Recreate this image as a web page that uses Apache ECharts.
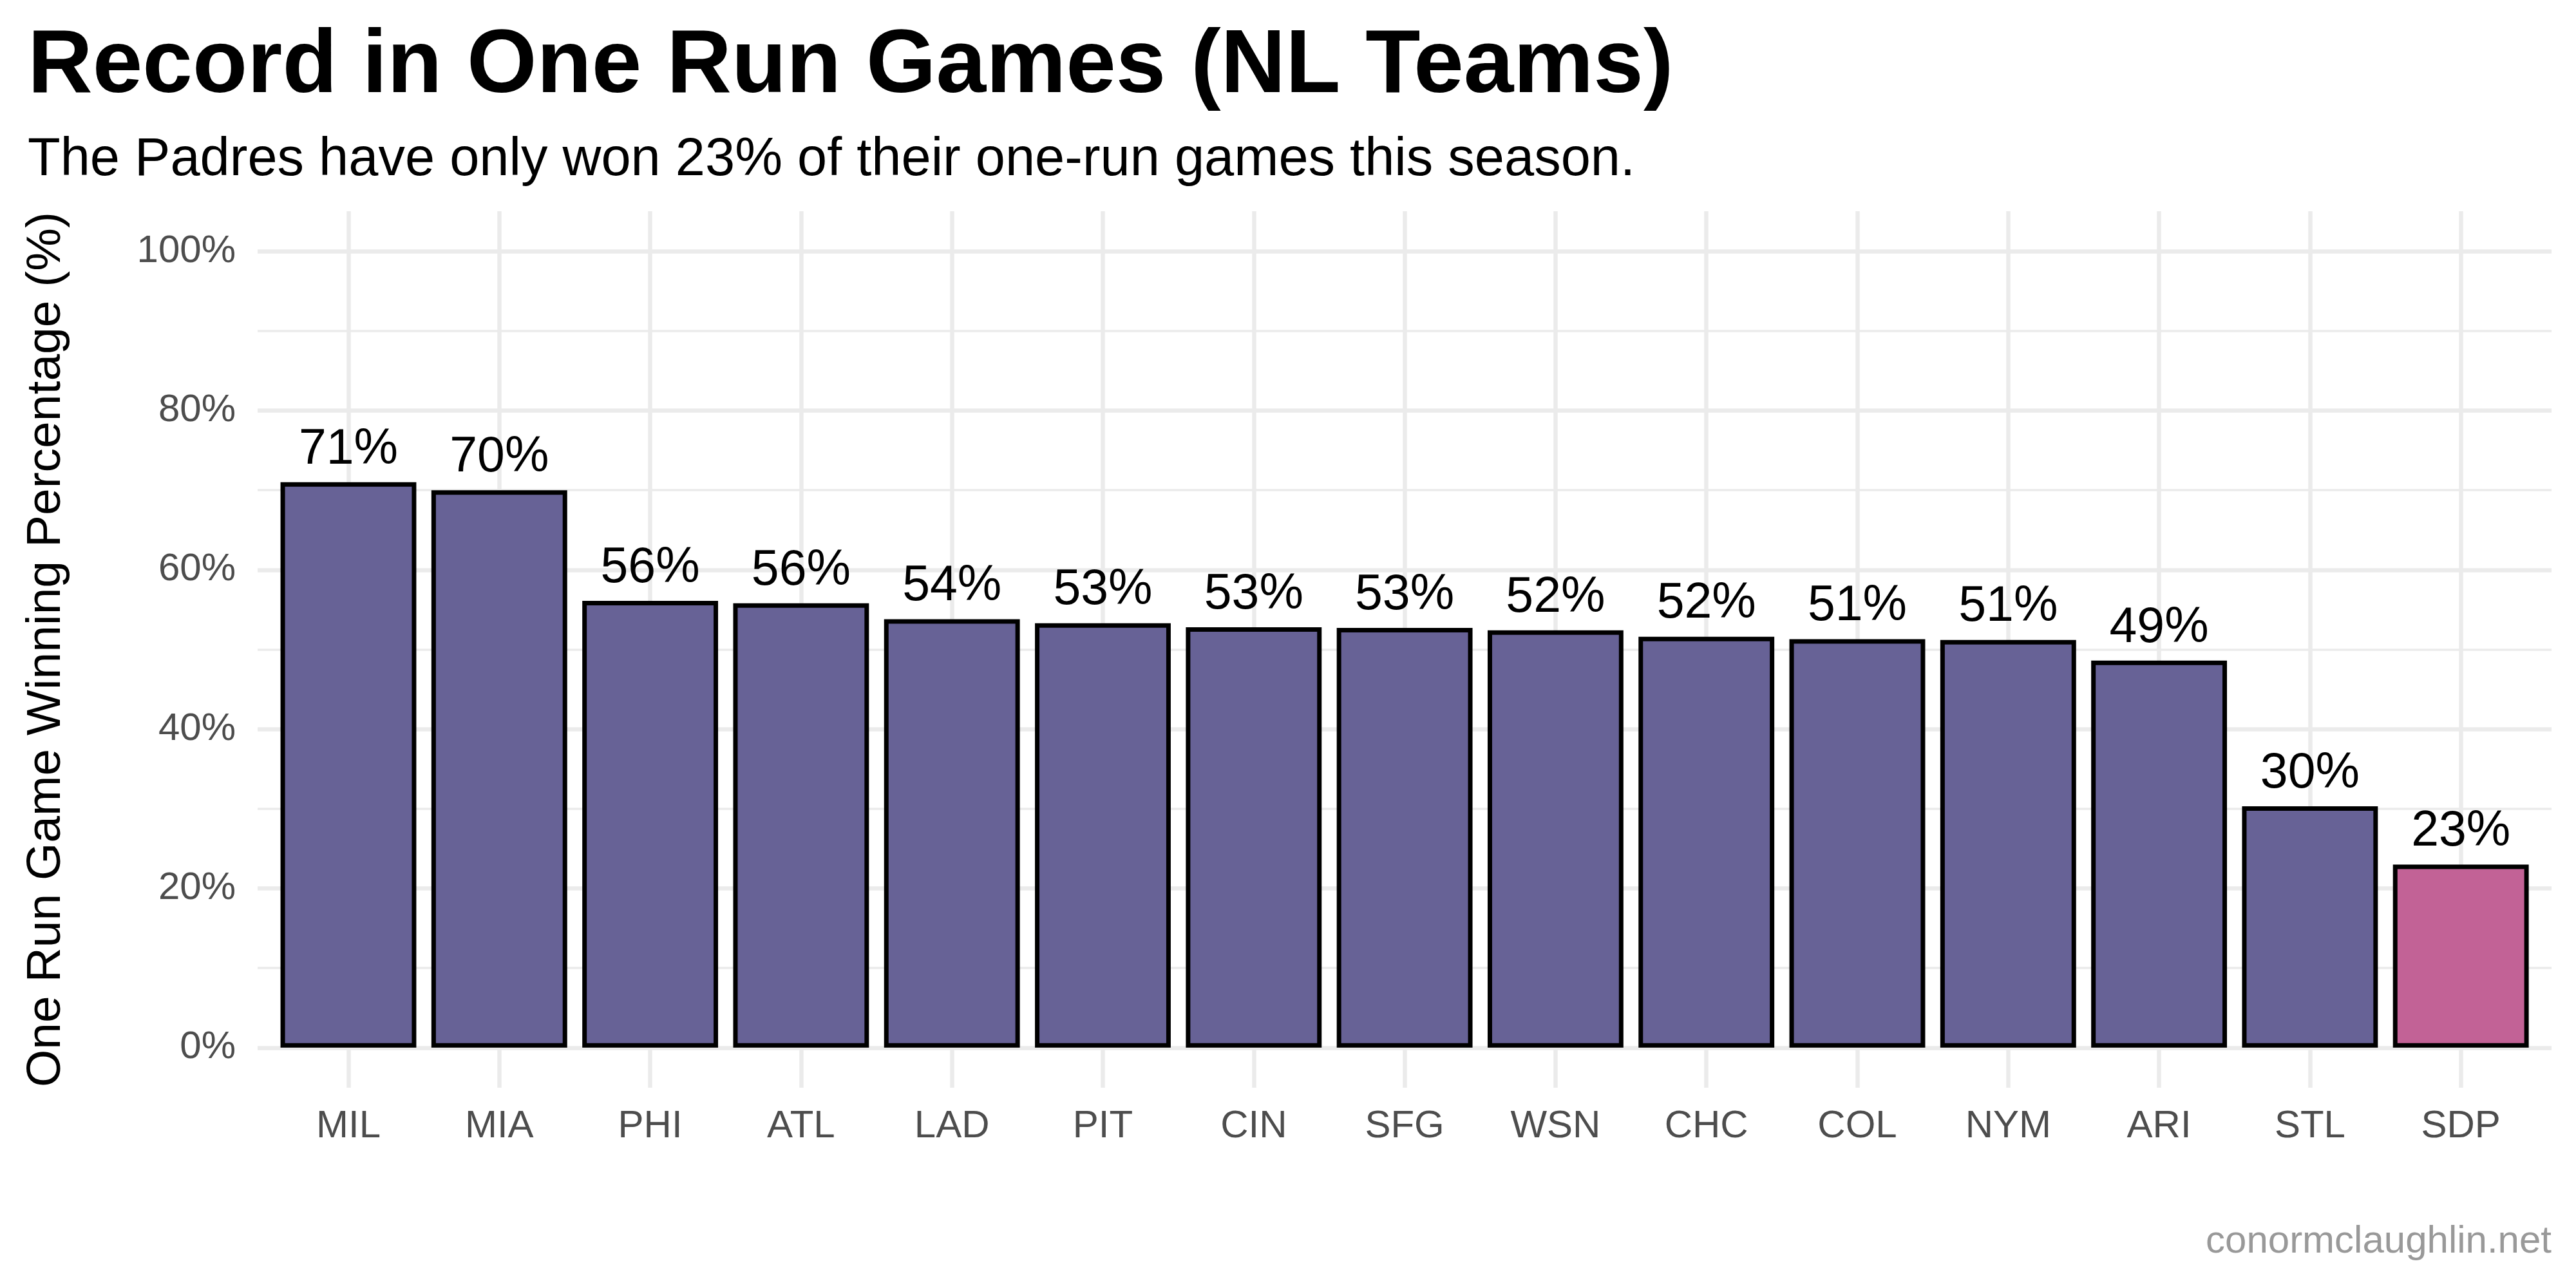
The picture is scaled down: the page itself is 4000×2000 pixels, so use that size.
<!DOCTYPE html>
<html>
<head>
<meta charset="utf-8">
<script src="https://cdn.jsdelivr.net/npm/echarts@6/dist/echarts.min.js"></script>
<style>
  html, body { margin: 0; padding: 0; background: #ffffff; }
  #chart { width: 4000px; height: 2000px; }
</style>
</head>
<body>
<div id="chart"></div>
<script>
// ---- data ----
const teams = ['MIL','MIA','PHI','ATL','LAD','PIT','CIN','SFG','WSN','CHC','COL','NYM','ARI','STL','SDP'];
const winPct = [71.0, 70.0, 56.1, 55.8, 53.8, 53.3, 52.8, 52.7, 52.4, 51.6, 51.3, 51.2, 48.6, 30.3, 23.0];
const highlightTeam = 'SDP';
const yTicks = [0, 20, 40, 60, 80, 100];

const titleText = 'Record in One Run Games (NL Teams)';
const subtitleText = 'The Padres have only won 23% of their one-run games this season.';
const yTitle = 'One Run Game Winning Percentage (%)';
const captionText = 'conormclaughlin.net';

// ---- style ----
const FONT = '"Liberation Sans", Arial, Helvetica, sans-serif';
const baseColor = '#676296';
const highlightColor = '#C26296';
const gridColor = '#EBEBEB';

const chart = echarts.init(document.getElementById('chart'), null, { renderer: 'canvas' });

const barData = teams.map((t, i) => ({
  value: winPct[i],
  itemStyle: { color: t === highlightTeam ? highlightColor : baseColor }
}));

const option = {
  backgroundColor: '#ffffff',
  animation: false,
  title: [
    { text: titleText, left: 43, top: 35, padding: 0,
      textStyle: { fontFamily: FONT, fontSize: 139.5, fontWeight: 'bold', color: '#000000' } },
    { text: subtitleText, left: 43, top: 208, padding: 0,
      textStyle: { fontFamily: FONT, fontSize: 83, fontWeight: 'normal', color: '#000000' } },
    { text: captionText, right: 38, top: 1898, padding: 0,
      textStyle: { fontFamily: FONT, fontSize: 60, fontWeight: 'normal', color: '#999999' } }
  ],
  grid: [
    // bars
    { left: 423.85, right: 61.65, top: 390.2, bottom: 373.2, containLabel: false },
    // horizontal grid lines + y labels
    { left: 400, right: 38, top: 390.2, bottom: 373.2, containLabel: false },
    // vertical grid lines + x labels
    { left: 541, right: 178.8, top: 328, bottom: 311, containLabel: false }
  ],
  xAxis: [
    { gridIndex: 0, type: 'category', data: teams, show: false },
    { gridIndex: 1, type: 'value', min: 0, max: 1, show: false },
    { gridIndex: 2, type: 'category', data: teams, boundaryGap: false,
      axisLine: { show: false }, axisTick: { show: false, interval: 0 },
      axisLabel: { show: true, interval: 0, margin: 30, fontFamily: FONT, fontSize: 60, color: '#4D4D4D' },
      splitLine: { show: true, interval: 0, lineStyle: { color: gridColor, width: 6.5 } } }
  ],
  yAxis: [
    { gridIndex: 0, type: 'value', min: 0, max: 100, show: false },
    { gridIndex: 1, type: 'value', min: 0, max: 100, interval: 20,
      name: yTitle, nameLocation: 'middle', nameRotate: 90, nameGap: 290,
      nameTextStyle: { fontFamily: FONT, fontSize: 75, color: '#000000' },
      axisLine: { show: false }, axisTick: { show: false },
      minorTick: { show: false, splitNumber: 2 },
      axisLabel: { margin: 34, fontFamily: FONT, fontSize: 60, color: '#4D4D4D',
        customValues: yTicks, formatter: v => v + '%' },
      splitLine: { show: true, lineStyle: { color: gridColor, width: 6.5 } },
      minorSplitLine: { show: true, lineStyle: { color: gridColor, width: 3.5 } } },
    { gridIndex: 2, type: 'value', min: 0, max: 1, show: false }
  ],
  series: [
    {
      type: 'bar',
      xAxisIndex: 0, yAxisIndex: 0,
      data: barData,
      barWidth: '90%',
      itemStyle: { borderColor: '#000000', borderWidth: 7 },
      label: {
        show: true, position: 'top', distance: 12,
        fontFamily: FONT, fontSize: 77, color: '#000000',
        formatter: p => Math.round(p.value) + '%'
      },
      z: 3
    }
  ]
};

chart.setOption(option);
</script>
</body>
</html>
